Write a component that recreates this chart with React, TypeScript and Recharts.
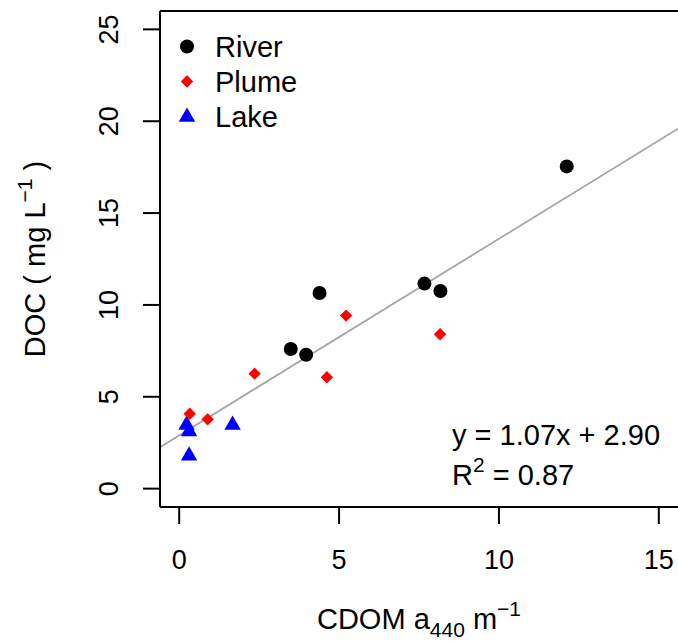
import {
  Customized,
  ReferenceLine,
  Scatter,
  ScatterChart,
  XAxis,
  YAxis,
} from "recharts";

const riverX = [3.49, 3.97, 4.39, 7.67, 8.17, 12.12];
const riverY = [7.6, 7.29, 10.65, 11.16, 10.76, 17.54];
const plumeX = [0.33, 0.89, 2.36, 4.62, 5.22, 8.16];
const plumeY = [4.08, 3.77, 6.26, 6.06, 9.42, 8.4];
const lakeX = [0.23, 0.31, 0.31, 1.67];
const lakeY = [3.47, 3.11, 1.79, 3.47];

const xTicks = [0, 5, 10, 15];
const yTicks = [0, 5, 10, 15, 20, 25];
const X_DOMAIN: [number, number] = [-0.6, 15.6];
const Y_DOMAIN: [number, number] = [-1, 26];

const slope = 1.07;
const intercept = 2.9;
const r2 = "0.87";

const FONT = "'Liberation Sans', Arial, sans-serif";
const FS_TICK = 27;
const FS = 29;
const FS_SMALL = 21;

const toPoints = (xs: number[], ys: number[]) => xs.map((x, i) => ({ x, y: ys[i] }));
const river = toPoints(riverX, riverY);
const plume = toPoints(plumeX, plumeY);
const lake = toPoints(lakeX, lakeY);

function Dot({ cx, cy }: any) {
  return <circle cx={cx} cy={cy} r={7} fill="#000" />;
}

function Diamond({ cx, cy }: any) {
  const h = 6.2;
  return <path d={`M${cx},${cy - h}L${cx + h},${cy}L${cx},${cy + h}L${cx - h},${cy}Z`} fill="#ff0000" />;
}

function Triangle({ cx, cy }: any) {
  const r = 9.5;
  const w = r * 0.866;
  return (
    <path
      d={`M${cx},${cy - r}L${cx + w},${cy + r / 2}L${cx - w},${cy + r / 2}Z`}
      fill="#0000ff"
    />
  );
}

function XTick({ x, y, payload }: any) {
  return (
    <text x={x} y={y + 43} textAnchor="middle" fontSize={FS_TICK} fontFamily={FONT} fill="#000">
      {payload.value}
    </text>
  );
}

function YTick({ x, y, payload }: any) {
  const bx = x - 23;
  return (
    <text
      x={bx}
      y={y}
      transform={`rotate(-90, ${bx}, ${y})`}
      textAnchor="middle"
      fontSize={FS_TICK}
      fontFamily={FONT}
      fill="#000"
    >
      {payload.value}
    </text>
  );
}

function XTitle({ viewBox }: any) {
  const cx = viewBox.x + viewBox.width / 2;
  const by = viewBox.y + 122;
  return (
    <text x={cx} y={by} textAnchor="middle" fontSize={FS} fontFamily={FONT} fill="#000">
      CDOM a
      <tspan dy={8} fontSize={FS_SMALL}>
        440
      </tspan>
      <tspan dy={-8}> m</tspan>
      <tspan dy={-13} fontSize={FS_SMALL}>
        −1
      </tspan>
    </text>
  );
}

function YTitle({ viewBox }: any) {
  const bx = 45;
  const cy = viewBox.y + viewBox.height / 2;
  return (
    <text
      x={bx}
      y={cy}
      transform={`rotate(-90, ${bx}, ${cy})`}
      textAnchor="middle"
      fontSize={FS}
      fontFamily={FONT}
      fill="#000"
    >
      DOC ( mg L
      <tspan dy={-13} fontSize={FS_SMALL}>
        −1
      </tspan>
      <tspan dy={13}> )</tspan>
    </text>
  );
}

function Annotations() {
  const lx = 187;
  const tx = 215;
  return (
    <g fontFamily={FONT} fontSize={FS} fill="#000">
      <Dot cx={lx} cy={46.5} />
      <Diamond cx={lx} cy={81.5} />
      <Triangle cx={lx} cy={117} />
      <text x={tx} y={57}>River</text>
      <text x={tx} y={92}>Plume</text>
      <text x={tx} y={127}>Lake</text>
      <text x={452} y={445}>
        y = {slope.toFixed(2)}x + {intercept.toFixed(2)}
      </text>
      <text x={452} y={485}>
        R
        <tspan dy={-13} fontSize={FS_SMALL}>
          2
        </tspan>
        <tspan dy={13}> = {r2}</tspan>
      </text>
    </g>
  );
}

export default function App() {
  return (
    <div style={{ position: "absolute", left: 0, top: 0, background: "#fff" }}>
      <ScatterChart width={678} height={643} margin={{ top: 11, right: 0, bottom: 0, left: 0 }}>
        <XAxis
          type="number"
          dataKey="x"
          domain={X_DOMAIN}
          ticks={xTicks}
          allowDataOverflow
          height={136}
          tickSize={17}
          axisLine={{ stroke: "#000", strokeWidth: 2 }}
          tickLine={{ stroke: "#000", strokeWidth: 2 }}
          tick={XTick}
          label={{ content: XTitle }}
        />
        <YAxis
          type="number"
          dataKey="y"
          domain={Y_DOMAIN}
          ticks={yTicks}
          allowDataOverflow
          width={160}
          tickSize={17}
          axisLine={{ stroke: "#000", strokeWidth: 2 }}
          tickLine={{ stroke: "#000", strokeWidth: 2 }}
          tick={YTick}
          label={{ content: YTitle }}
        />
        <ReferenceLine y={Y_DOMAIN[1]} stroke="#000" strokeWidth={2} />
        <Scatter data={river} shape={Dot} isAnimationActive={false} />
        <Scatter data={lake} shape={Triangle} isAnimationActive={false} />
        <Scatter data={plume} shape={Diamond} isAnimationActive={false} />
        <ReferenceLine
          segment={[
            { x: X_DOMAIN[0], y: slope * X_DOMAIN[0] + intercept },
            { x: X_DOMAIN[1], y: slope * X_DOMAIN[1] + intercept },
          ]}
          stroke="#a6a6a6"
          strokeWidth={1.8}
        />
        <Customized component={Annotations} />
      </ScatterChart>
    </div>
  );
}
